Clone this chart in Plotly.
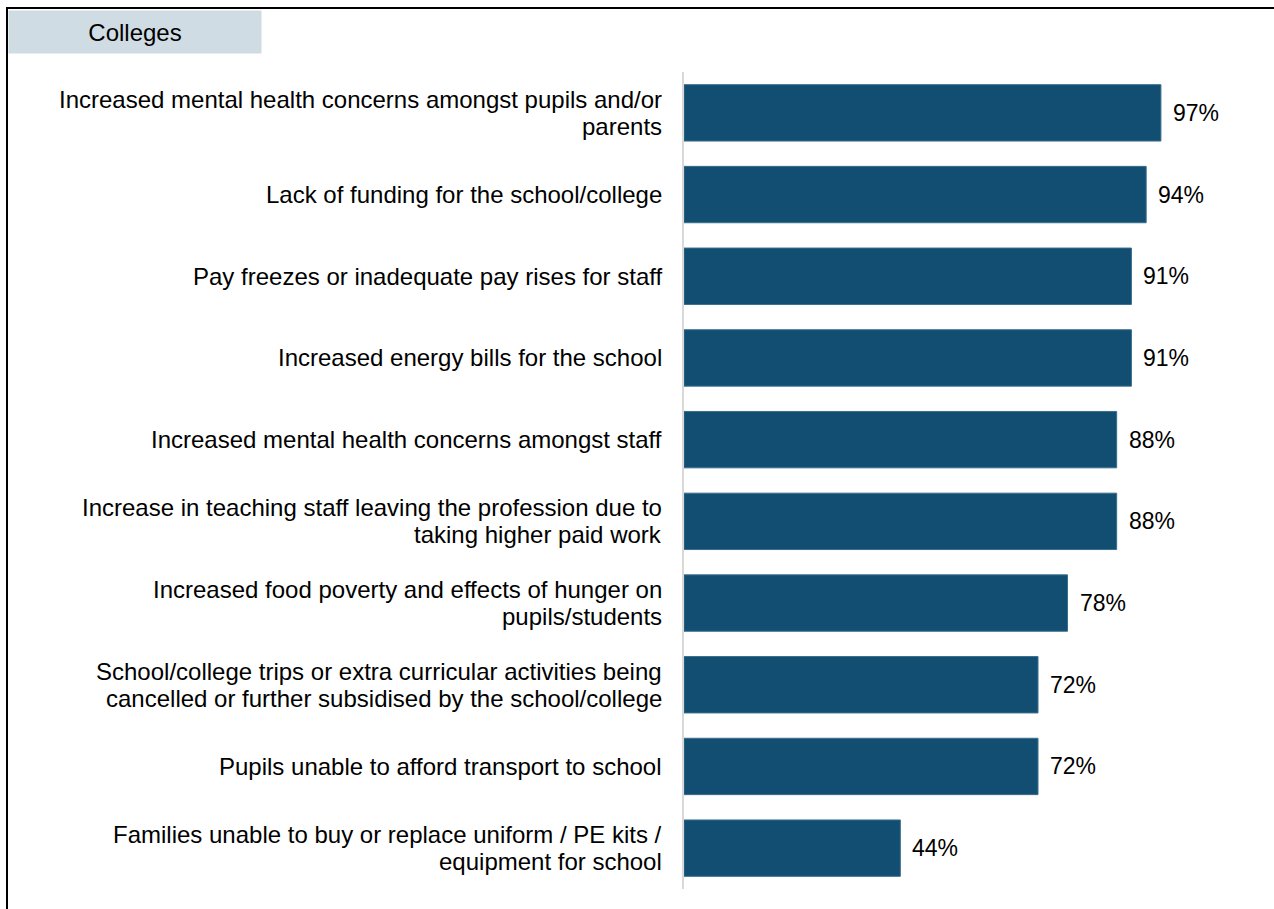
import plotly.graph_objects as go

categories = [
    "Increased mental health concerns amongst pupils and/or<br>parents",
    "Lack of funding for the school/college",
    "Pay freezes or inadequate pay rises for staff",
    "Increased energy bills for the school",
    "Increased mental health concerns amongst staff",
    "Increase in teaching staff leaving the profession due to<br>taking higher paid work",
    "Increased food poverty and effects of hunger on<br>pupils/students",
    "School/college trips or extra curricular activities being<br>cancelled or further subsidised by the school/college",
    "Pupils unable to afford transport to school",
    "Families unable to buy or replace uniform / PE kits /<br>equipment for school",
]
values = [97, 94, 91, 91, 88, 88, 78, 72, 72, 44]
value_labels = [f"{v}%" for v in values]
panel_title = "Colleges"

FONT = "Liberation Sans, Arial, sans-serif"
FS = 24
BAR = "#114E72"

W, H = 1274, 909
ML, MR, MT, MB = 684, 0, 72, 20
PW, PH = W - ML - MR, H - MT - MB
LINE_H = 27

def px_x(p):
    return (p - ML) / PW

def px_y(p):
    return 1 - (p - MT) / PH

fig = go.Figure()
fig.add_trace(go.Bar(
    y=categories, x=values, orientation="h",
    marker=dict(color=BAR, line=dict(color="#3B6E8E", width=1)),
    hoverinfo="skip",
))

# value labels
for c, v, t in zip(categories, values, value_labels):
    fig.add_annotation(x=v, y=c, xref="x", yref="y", text=t, showarrow=False,
                       xanchor="left", xshift=10, font=dict(family=FONT, size=23, color="#000"))

# category labels (one annotation per line for tighter line spacing)
for c in categories:
    lines = c.split("<br>")
    n = len(lines)
    for i, ln in enumerate(lines):
        off = ((n - 1) / 2 - i) * LINE_H
        fig.add_annotation(x=0, y=c, xref="x", yref="y", text=ln, showarrow=False,
                           xanchor="right", yanchor="middle", xshift=-20, yshift=off,
                           font=dict(family=FONT, size=FS, color="#000"))

fig.add_annotation(x=px_x(8), y=px_y(10), xref="paper", yref="paper",
                   xanchor="left", yanchor="top", text=panel_title, showarrow=False,
                   width=252, height=42, bgcolor="#D0DCE3", borderpad=0,
                   font=dict(family=FONT, size=FS, color="#000"))

fig.add_shape(type="line", xref="paper", yref="paper",
              x0=px_x(7), x1=px_x(7), y0=px_y(7), y1=px_y(930),
              line=dict(color="#000", width=2))
fig.add_shape(type="line", xref="paper", yref="paper",
              x0=px_x(6), x1=px_x(1300), y0=px_y(8), y1=px_y(8),
              line=dict(color="#000", width=2))

fig.update_layout(
    width=W, height=H,
    margin=dict(l=ML, r=MR, t=MT, b=MB),
    paper_bgcolor="white", plot_bgcolor="white",
    showlegend=False, bargap=0.31,
    font=dict(family=FONT, size=FS, color="#000"),
    xaxis=dict(range=[0, 120], visible=False, fixedrange=True),
    yaxis=dict(autorange="reversed", showline=True, linecolor="#D9D9D9", linewidth=2,
               showgrid=False, ticks="", showticklabels=False, fixedrange=True),
)

fig.write_html("out.html", config={"displayModeBar": False},
               post_script="document.body.style.margin='0';")
